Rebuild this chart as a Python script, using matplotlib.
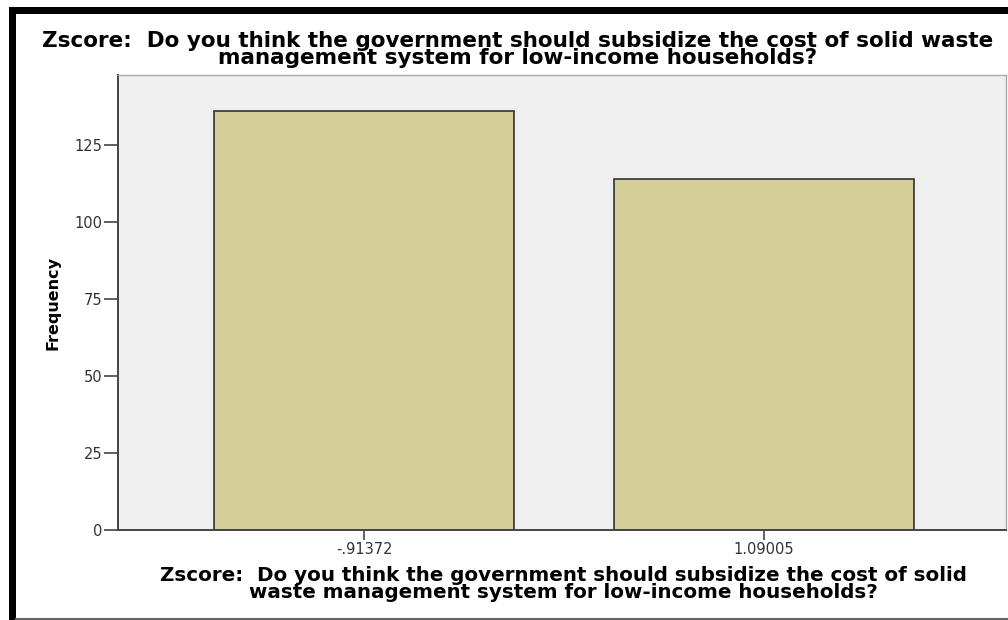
import matplotlib.pyplot as plt
from matplotlib.patches import Rectangle
from matplotlib.lines import Line2D

categories = ["-.91372", "1.09005"]
frequency = [136, 114]
yticks = [0, 25, 50, 75, 100, 125]
question = "Zscore:  Do you think the government should subsidize the cost of solid waste\nmanagement system for low-income households?"
xlabel = "Zscore:  Do you think the government should subsidize the cost of solid\nwaste management system for low-income households?"

W, H = 1008, 620
fig = plt.figure(figsize=(W / 100, H / 100), dpi=100)
plt.rcParams['font.family'] = ['DejaVu Sans']

# black frame from the screenshot
fig.add_artist(Rectangle((9 / W, 0), 7 / W, 1 - 7 / H, transform=fig.transFigure,
                         color="black", lw=0))
fig.add_artist(Rectangle((9 / W, 1 - 14 / H), 1, 7 / H, transform=fig.transFigure,
                         color="black", lw=0))
fig.add_artist(Line2D([16 / W, 1], [1.5 / H, 1.5 / H], transform=fig.transFigure,
                      color="#666666", lw=1.5))

# plot area: x 118..1006, y 75..530 (pixels from top)
ax = fig.add_axes([118 / W, 1 - 530 / H, (1006 - 118) / W, (530 - 75) / H])
ax.set_facecolor("#EFEFEF")
x = list(range(len(categories)))
ax.bar(x, frequency, width=0.75, color="#D3CE97", edgecolor="#333333", linewidth=1.2, zorder=2)
ax.set_xlim(-0.615, 1.605)
ax.set_ylim(0, 147.7)
ax.set_xticks(x)
ax.set_xticklabels(categories, fontsize=10.5, color="#333333")
ax.set_yticks(yticks)
ax.set_yticklabels([str(v) for v in yticks], fontsize=10.5, color="#333333")
ax.tick_params(axis="y", length=10, width=1.2, color="#444444", pad=1)
ax.tick_params(axis="x", length=7, width=1.2, color="#444444", pad=2)

for s in ["left", "bottom"]:
    ax.spines[s].set_color("#444444")
    ax.spines[s].set_linewidth(1.4)
for s in ["top", "right"]:
    ax.spines[s].set_color("#AAAAAA")
    ax.spines[s].set_linewidth(1)

ax.set_ylabel("Frequency", fontsize=11.5, fontweight="bold", labelpad=10)
fig.text(563 / W, 1 - 566 / H, xlabel, ha="center", va="top", fontsize=14.3,
         fontweight="bold", linespacing=0.85)
fig.text(518 / W, 1 - 31 / H, question, ha="center", va="top", fontsize=15.5,
         fontweight="bold", linespacing=0.8)

fig.savefig("out.png", dpi=100)
